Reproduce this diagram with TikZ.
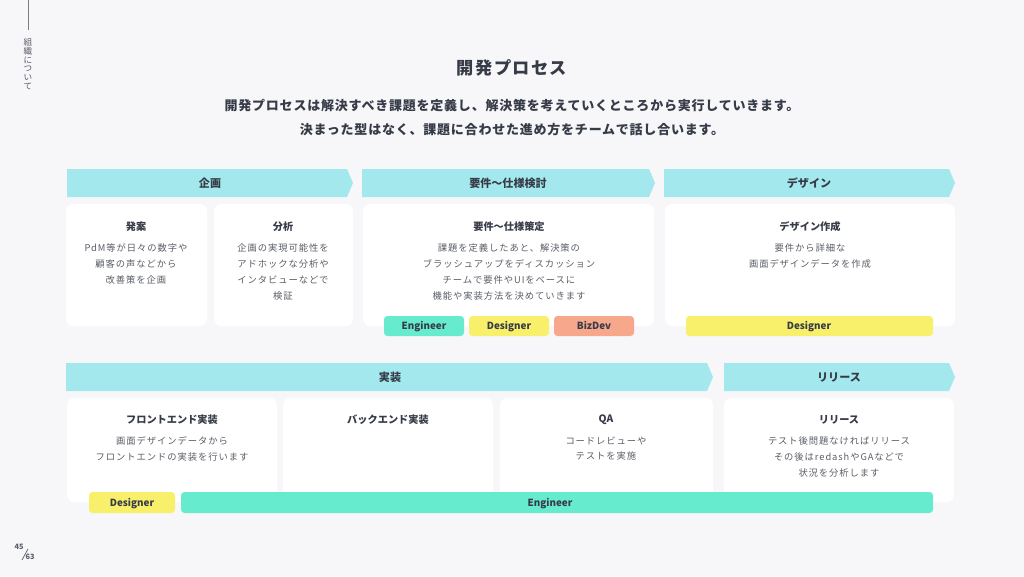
\documentclass[tikz,border=0pt]{standalone}
\usepackage{fontspec}
\setmainfont{Noto Sans CJK JP}
\newfontfamily\jpbody{Noto Sans CJK JP}[LetterSpace=10]
\newfontfamily\jpsub{Noto Sans CJK JP}[LetterSpace=6]
\newfontfamily\jptitle{Noto Sans CJK JP}[LetterSpace=8]
\definecolor{bg}{HTML}{F7F7FA}
\definecolor{ban}{HTML}{A2E8EC}
\definecolor{ink}{HTML}{363B47}
\definecolor{body}{HTML}{5A5E66}
\definecolor{teal}{HTML}{66EBCF}
\definecolor{yel}{HTML}{F8EF6B}
\definecolor{sal}{HTML}{F7A78C}
\tikzset{
  banner/.style={fill=ban},
  bantext/.style={font=\bfseries\fontsize{6.3pt}{7pt}\selectfont, text=ink, inner sep=0},
  card/.style={fill=white, rounded corners=4},
  ctitle/.style={font=\bfseries\fontsize{5.8pt}{7pt}\selectfont, text=ink, inner sep=0},
  cbody/.style={font=\jpbody\fontsize{5.3pt}{9.07pt}\selectfont, text=body, inner sep=0, align=center, anchor=north},
  tag/.style={rounded corners=2},
  tagtext/.style={font=\bfseries\fontsize{5.6pt}{7pt}\selectfont, text=ink, inner sep=0, text height=4pt, text depth=0pt},
}
\begin{document}
\begin{tikzpicture}[x=0.02cm,y=-0.02cm]
\fill[bg] (0,0) rectangle (1024,576);
\useasboundingbox (0,0) rectangle (1024,576);

% side label
\coordinate (ltop) at (28,0);
\coordinate (lbot) at (28,30);
\draw[color=body!80, line width=0.5pt] (ltop) -- (lbot);
\node[font=\fontsize{4.9pt}{5.0pt}\selectfont, text=body, align=center, inner sep=0, anchor=north] (side) at (28,38) {組\\織\\に\\つ\\い\\て};

% title
\node[font=\jptitle\bfseries\fontsize{9.8pt}{12pt}\selectfont, text=ink, inner sep=0] (title) at (512,68) {開発プロセス};
\node[font=\jpsub\bfseries\fontsize{7.4pt}{9pt}\selectfont, text=ink, inner sep=0] (sub1) at (512,106) {開発プロセスは解決すべき課題を定義し、解決策を考えていくところから実行していきます。};
\node[font=\jpsub\bfseries\fontsize{7.4pt}{9pt}\selectfont, text=ink, inner sep=0] (sub2) at (512,130) {決まった型はなく、課題に合わせた進め方をチームで話し合います。};

% row 1 banners
\fill[banner] (67,169) -- (347,169) -- (353,183) -- (347,197) -- (67,197) -- cycle;
\node[bantext] (b1) at (210,183) {企画};
\fill[banner] (362,169) -- (649,169) -- (655,183) -- (649,197) -- (362,197) -- cycle;
\node[bantext] (b2) at (508,183) {要件〜仕様検討};
\fill[banner] (664,169) -- (949,169) -- (955,183) -- (949,197) -- (664,197) -- cycle;
\node[bantext] (b3) at (809,183) {デザイン};

% row 1 cards
\fill[card] (66,204) rectangle (207,326);
\node[ctitle] (c1t) at (136,226.5) {発案};
\node[cbody] (c1b) at (136,243) {PdM等が日々の数字や\\顧客の声などから\\改善策を企画};
\fill[card] (214,204) rectangle (353,326);
\node[ctitle] (c2t) at (283,226.5) {分析};
\node[cbody] (c2b) at (283,243) {企画の実現可能性を\\アドホックな分析や\\インタビューなどで\\検証};
\fill[card] (363,204) rectangle (654,326);
\node[ctitle] (c3t) at (509,226.5) {要件〜仕様策定};
\node[cbody] (c3b) at (509,243) {課題を定義したあと、解決策の\\ブラッシュアップをディスカッション\\チームで要件やUIをベースに\\機能や実装方法を決めていきます};
\fill[card] (665,204) rectangle (955,326);
\node[ctitle] (c4t) at (810,226.5) {デザイン作成};
\node[cbody] (c4b) at (810,243) {要件から詳細な\\画面デザインデータを作成};

% row 1 tags
\fill[tag, teal] (384,316) rectangle (464,336);
\node[tagtext] (t1) at (424,326) {Engineer};
\fill[tag, yel] (469,316) rectangle (549,336);
\node[tagtext] (t2) at (509,326) {Designer};
\fill[tag, sal] (554,316) rectangle (634,336);
\node[tagtext] (t3) at (594,326) {BizDev};
\fill[tag, yel] (686,316) rectangle (933,336);
\node[tagtext] (t4) at (809,326) {Designer};

% row 2 banners
\fill[banner] (66,363) -- (707,363) -- (713,377) -- (707,391) -- (66,391) -- cycle;
\node[bantext] (b4) at (390,377) {実装};
\fill[banner] (724,363) -- (949,363) -- (955,377) -- (949,391) -- (724,391) -- cycle;
\node[bantext] (b5) at (839,377) {リリース};

% row 2 cards
\fill[card] (67,398) rectangle (277,502);
\node[ctitle] (c5t) at (172,419.5) {フロントエンド実装};
\node[cbody] (c5b) at (172,436) {画面デザインデータから\\フロントエンドの実装を行います};
\fill[card] (283,398) rectangle (493,502);
\node[ctitle] (c6t) at (388,419.5) {バックエンド実装};
\fill[card] (500,398) rectangle (713,502);
\node[ctitle] (c7t) at (606,419.5) {QA};
\node[cbody] (c7b) at (606,436) {コードレビューや\\テストを実施};
\fill[card] (724,398) rectangle (954,502);
\node[ctitle] (c8t) at (839,419.5) {リリース};
\node[cbody] (c8b) at (839,436) {テスト後問題なければリリース\\その後はredashやGAなどで\\状況を分析します};

% row 2 tags
\fill[tag, yel] (89,492) rectangle (175,513);
\node[tagtext] (t5) at (132,502.5) {Designer};
\fill[tag, teal] (181,492) rectangle (933,513);
\node[tagtext] (t6) at (550,502.5) {Engineer};

% page number
\node[font=\bfseries\fontsize{4.2pt}{5pt}\selectfont, text=body, inner sep=0] (p1) at (19,547) {45};
\node[font=\bfseries\fontsize{4.2pt}{5pt}\selectfont, text=body, inner sep=0] (p2) at (30,557) {63};
\coordinate (s1) at (22,560);
\coordinate (s2) at (28,549);
\draw[color=body, line width=0.4pt] (s1) -- (s2);
\end{tikzpicture}
\end{document}
